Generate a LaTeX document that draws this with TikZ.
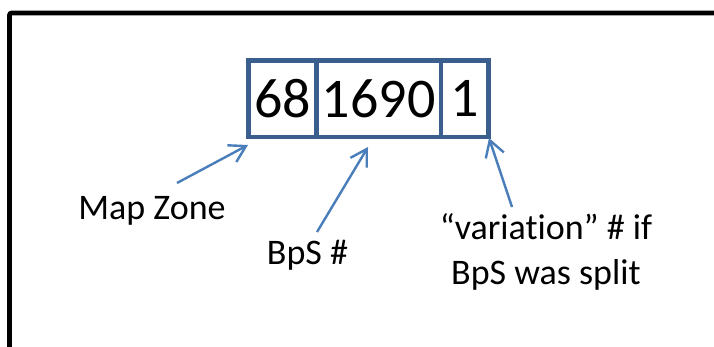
\documentclass[tikz,border=0pt]{standalone}
\usepackage{fontspec}
\setmainfont{Carlito}[Ligatures=NoCommon]
\usetikzlibrary{arrows.meta}
\definecolor{cellblue}{HTML}{3A5F8E}
\definecolor{arrowblue}{HTML}{4A7EBB}
\tikzset{
  cell/.style={rectangle, draw=cellblue, line width=4.5pt, inner sep=0pt,
               minimum height=76.5pt, font=\fontsize{56}{60}\selectfont},
  lbl/.style={anchor=base, inner sep=0pt, align=center,
              font=\fontsize{36}{45}\selectfont},
  pointer/.style={line width=2.4pt, draw=arrowblue,
                  -{Straight Barb[length=16pt, width=19pt, line width=2.4pt]}}
}
\begin{document}
\begin{tikzpicture}[x=1pt, y=-1pt]
  \useasboundingbox (0,0) rectangle (714,347);
  \clip (0,0) rectangle (714,347);
  \draw[line width=4.6pt, rounded corners=2pt] (9.5,13) rectangle (740,370);
  \node[cell, minimum width=68pt]   (zone) at (282.5,98.75) {68};
  \node[cell, minimum width=124.5pt] (bps) at (378.75,98.75) {1690};
  \node[cell, minimum width=47.5pt] (var)  at (464.75,98.75) {1};
  \node[lbl] (mapzone) at (152,220) {Map Zone};
  \node[lbl] (bpsnum) at (307.5,265) {BpS \#};
  \node[lbl] (split) at (546,284) {“variation” \# if\\BpS was split};
  \coordinate (zonetip) at (248,145);
  \coordinate (bpstip) at (368,147);
  \coordinate (vartip) at (489,138);
  \draw[pointer] (177,183) -- (zonetip);
  \draw[pointer] (317,232) -- (bpstip);
  \draw[pointer] (512,207) -- (vartip);
\end{tikzpicture}
\end{document}
